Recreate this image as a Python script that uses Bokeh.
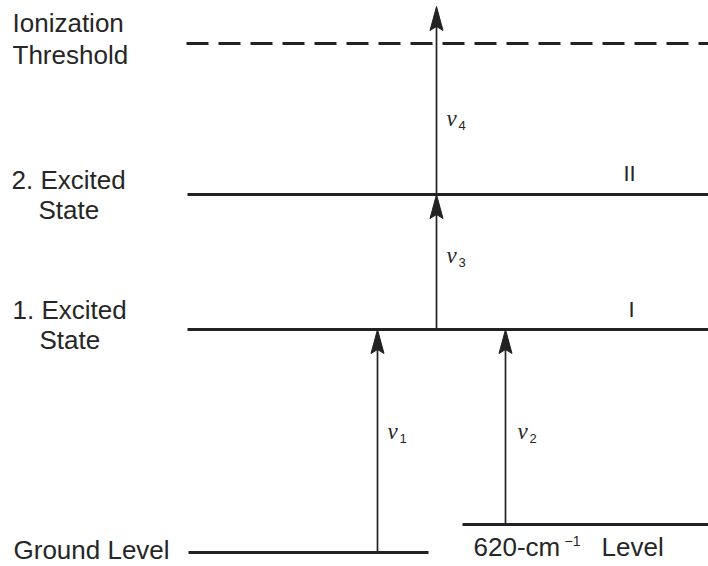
from bokeh.plotting import figure
from bokeh.models import Range1d
from bokeh.core.properties import value
from bokeh.embed import file_html
from bokeh.resources import INLINE

# ---- energy levels (diagram units above the ground level) ----
level_keys = ["ground", "cm620", "excited1", "excited2", "ionization"]
level_energy = [0, 28, 223, 358, 509]

# ---- optical transitions: nu index, lower level, upper end of the arrow ----
nu_index = ["1", "2", "3", "4"]
nu_from = [0, 28, 223, 358]
nu_to = [223, 223, 358, 546]

# ---- layout: horizontal extent of each level line, arrow columns ----
level_x0 = {"ground": 188, "cm620": 462, "excited1": 187, "excited2": 187, "ionization": 186}
level_x1 = {"ground": 428, "cm620": 708, "excited1": 708, "excited2": 708, "ionization": 708}
nu_x = [377, 505, 436, 436]

INK = "#222222"
TEXT = "#262626"
FONT = "Liberation Sans"
HEAD_LEN = 24
HEAD_HALF = 6.5


def lift(size):
    # the svg text baseline sits a little low; raise labels by a fraction of their size
    return 0.4 * size


p = figure(width=708, height=566, output_backend="svg", toolbar_location=None,
           x_range=Range1d(0, 708), y_range=Range1d(-14, 552),
           min_border=0, min_border_left=0, min_border_right=0,
           min_border_top=0, min_border_bottom=0)
p.axis.visible = False
p.grid.visible = False
p.outline_line_color = None
p.background_fill_color = "white"
p.border_fill_color = "white"

# solid levels
solid = [k for k in level_keys if k != "ionization"]
p.segment(x0=[level_x0[k] for k in solid], x1=[level_x1[k] for k in solid],
          y0=[level_energy[level_keys.index(k)] for k in solid],
          y1=[level_energy[level_keys.index(k)] for k in solid],
          line_color=INK, line_width=2.8)

# ionization threshold (dashed)
e_ion = level_energy[level_keys.index("ionization")]
p.segment(x0=[level_x0["ionization"]], x1=[level_x1["ionization"]],
          y0=[e_ion], y1=[e_ion], line_color=INK, line_width=2.8,
          line_dash="22 10")

# transition arrows: shafts and filled heads
p.segment(x0=nu_x, x1=nu_x, y0=nu_from, y1=[t - HEAD_LEN + 4 for t in nu_to],
          line_color=INK, line_width=1.7)
head_xs = [[x - HEAD_HALF, x, x + HEAD_HALF, x] for x in nu_x]
head_ys = [[t - HEAD_LEN, t, t - HEAD_LEN, t - HEAD_LEN + 4] for t in nu_to]
p.patches(xs=head_xs, ys=head_ys, fill_color=INK, line_color=INK, line_width=1)

# level names on the left
BIG = 26
left_txt = ["Ionization", "Threshold", "2. Excited", "State", "1. Excited", "State", "Ground Level"]
left_x = [12, 12, 11, 38, 12, 39, 13]
left_y = [519, 487, 362, 332, 232, 202, -8]
p.text(x=left_x, y=[y + lift(BIG) for y in left_y], text=left_txt, text_font=value(FONT),
       text_font_size=f"{BIG}px", text_color=TEXT, text_baseline="alphabetic",
       text_align="left")

# 620 cm^-1 level label
p.text(x=[473, 601], y=[-5 + lift(BIG)] * 2, text=["620-cm", "Level"],
       text_font=value(FONT), text_font_size=f"{BIG}px", text_color=TEXT,
       text_baseline="alphabetic")
p.text(x=[564], y=[6 + lift(14)], text=["\u22121"], text_font=value(FONT),
       text_font_size="14px", text_color=TEXT, text_baseline="alphabetic")

# Roman numerals for the excited states
p.text(x=[623, 628], y=[370 + lift(22), 234 + lift(22)], text=["II", "I"],
       text_font=value(FONT), text_font_size="22px", text_color=TEXT,
       text_baseline="alphabetic")

# nu labels with subscripts
nu_lx = [387, 517, 446, 446]
nu_ly = [112, 112, 288, 425]
p.text(x=nu_lx, y=[y + lift(23) for y in nu_ly], text=["\u03bd"] * 4,
       text_font=value("Liberation Serif"), text_font_style="italic",
       text_font_size="23px", text_color=TEXT, text_baseline="alphabetic")
p.text(x=[x + 12 for x in nu_lx], y=[y - 3 + lift(13) for y in nu_ly], text=nu_index,
       text_font=value(FONT), text_font_size="13px", text_color=TEXT,
       text_baseline="alphabetic")

open("out.html", "w").write(file_html(p, INLINE))
